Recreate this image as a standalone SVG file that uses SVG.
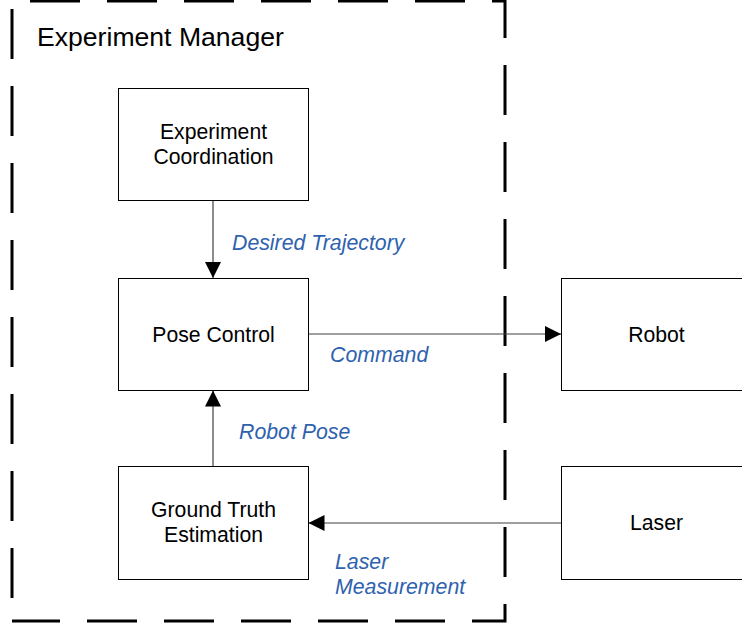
<svg xmlns="http://www.w3.org/2000/svg" width="742" height="628" viewBox="0 0 742 628">
<style>
.bg{fill:#fff}
.frame{fill:none;stroke:#000;stroke-width:3;stroke-dasharray:50 27}
.box{fill:#fff;stroke:#000;stroke-width:1}
.t{font-family:"Liberation Sans",Arial,sans-serif;font-size:21.2px;fill:#000;text-anchor:middle}
.lbl{font-family:"Liberation Sans",Arial,sans-serif;font-size:21.3px;font-style:italic;fill:#2F62AE}
.title{font-family:"Liberation Sans",Arial,sans-serif;font-size:26.6px;fill:#000}
.conn{fill:none;stroke:#404040;stroke-width:1.2}
</style>
<defs>
<marker id="arr" markerUnits="userSpaceOnUse" markerWidth="16" markerHeight="16" viewBox="0 0 14 14" refX="14" refY="7" orient="auto">
<path d="M0,0 L14,7 L0,14 Z" fill="#000"/>
</marker>
</defs>
<rect class="bg" x="0" y="0" width="742" height="628"/>
<g id="experiment-manager">
<path class="frame" d="M12,1 H505 V621 H12" stroke-dashoffset="59"/>
<path class="frame" d="M12,621 V1" stroke-dashoffset="54"/>
<text class="title" x="37" y="46">Experiment Manager</text>
</g>
<g id="connectors">
<line class="conn" x1="213" y1="200.5" x2="213" y2="278" marker-end="url(#arr)"/>
<line class="conn" x1="308.5" y1="334" x2="561" y2="334" marker-end="url(#arr)"/>
<line class="conn" x1="213" y1="466.5" x2="213" y2="390.5" marker-end="url(#arr)"/>
<line class="conn" x1="561.5" y1="523" x2="308.5" y2="523" marker-end="url(#arr)"/>
<text class="lbl" x="232" y="250">Desired Trajectory</text>
<text class="lbl" x="330" y="361.5">Command</text>
<text class="lbl" x="239" y="439">Robot Pose</text>
<text class="lbl" x="335" y="568.5">Laser</text>
<text class="lbl" x="335" y="593.5">Measurement</text>
</g>
<g id="experiment-coordination">
<rect class="box" x="118.5" y="88.5" width="190" height="112"/>
<text class="t" x="213.5" y="138.5">Experiment</text>
<text class="t" x="213.5" y="163.5">Coordination</text>
</g>
<g id="pose-control">
<rect class="box" x="118.5" y="278.5" width="190" height="112"/>
<text class="t" x="213.5" y="341.5">Pose Control</text>
</g>
<g id="ground-truth-estimation">
<rect class="box" x="118.5" y="466.5" width="190" height="113"/>
<text class="t" x="213.5" y="516.5">Ground Truth</text>
<text class="t" x="213.5" y="541.5">Estimation</text>
</g>
<g id="robot">
<rect class="box" x="561.5" y="278.5" width="190" height="112"/>
<text class="t" x="656.5" y="341.5">Robot</text>
</g>
<g id="laser">
<rect class="box" x="561.5" y="466.5" width="190" height="113"/>
<text class="t" x="656.5" y="530">Laser</text>
</g>
</svg>
